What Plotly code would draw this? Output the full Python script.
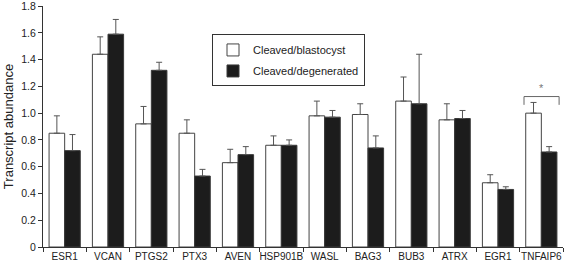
import plotly.graph_objects as go

genes = ["ESR1", "VCAN", "PTGS2", "PTX3", "AVEN", "HSP901B", "WASL", "BAG3",
         "BUB3", "ATRX", "EGR1", "TNFAIP6"]
blastocyst = [0.85, 1.44, 0.92, 0.85, 0.63, 0.76, 0.98, 0.99, 1.09, 0.95, 0.48, 1.00]
blastocyst_err = [0.13, 0.13, 0.13, 0.10, 0.10, 0.07, 0.11, 0.08, 0.18, 0.12, 0.06, 0.08]
degenerated = [0.72, 1.59, 1.32, 0.53, 0.69, 0.76, 0.97, 0.74, 1.07, 0.96, 0.43, 0.71]
degenerated_err = [0.12, 0.11, 0.06, 0.05, 0.06, 0.04, 0.05, 0.09, 0.37, 0.06, 0.02, 0.04]
zeros = [0] * len(genes)
y_ticks = [0, 0.2, 0.4, 0.6, 0.8, 1.0, 1.2, 1.4, 1.6, 1.8]
y_tick_labels = ["0", "0.2", "0.4", "0.6", "0.8", "1.0", "1.2", "1.4", "1.6", "1.8"]

FONT = "Liberation Sans, Arial, sans-serif"

fig = go.Figure()
fig.add_trace(go.Bar(
    x=genes, y=blastocyst, name="Cleaved/blastocyst", legendgroup="a",
    marker=dict(color="white", line=dict(color="#444444", width=1)),
    error_y=dict(type="data", array=blastocyst_err, arrayminus=zeros, symmetric=False,
                 color="#555555", thickness=1, width=3),
))
fig.add_trace(go.Bar(
    x=genes, y=degenerated, name="Cleaved/degenerated", legendgroup="b",
    marker=dict(color="#1c1c1c", line=dict(color="#3a3a3a", width=1)),
    error_y=dict(type="data", array=degenerated_err, arrayminus=zeros, symmetric=False,
                 color="#555555", thickness=1, width=3),
))

# significance bracket over TNFAIP6
fig.add_shape(type="path", xref="x", yref="y",
              path="M 10.6,1.062 L 10.6,1.124 L 11.41,1.124 L 11.41,1.062",
              line=dict(color="#666666", width=1))
fig.add_annotation(x=11, y=1.19, xref="x", yref="y", text="*", showarrow=False,
                   font=dict(size=11, color="#777777", family=FONT))

fig.update_layout(
    width=566, height=265,
    margin=dict(l=43, r=3, t=6, b=18),
    paper_bgcolor="white", plot_bgcolor="white",
    barmode="group", bargap=0.28, bargroupgap=0,
    font=dict(family=FONT, size=10, color="#222222"),
    legend=dict(x=0.325, y=0.882, xanchor="left", yanchor="top",
                bordercolor="#333333", borderwidth=1, bgcolor="white",
                font=dict(size=11, color="#222222"), tracegroupgap=2,
                itemwidth=30),
    showlegend=True,
)
fig.update_xaxes(showline=True, linecolor="#333333", linewidth=1,
                 ticks="outside", tickson="boundaries", ticklen=4, tickcolor="#333333",
                 showgrid=False, tickfont=dict(size=10), tickangle=0, automargin=False)
fig.update_yaxes(range=[0, 1.8005], tickvals=y_ticks, ticktext=y_tick_labels,
                 showline=True, linecolor="#333333", linewidth=1,
                 ticks="outside", ticklen=4, tickcolor="#333333",
                 showgrid=False, zeroline=False, tickfont=dict(size=10.5),
                 automargin=False, ticklabeloverflow="allow",
                 title=dict(text="Transcript abundance", font=dict(size=13), standoff=4))

fig.write_html("out.html", config={"displayModeBar": False},
               post_script="document.body.style.margin='0';")
